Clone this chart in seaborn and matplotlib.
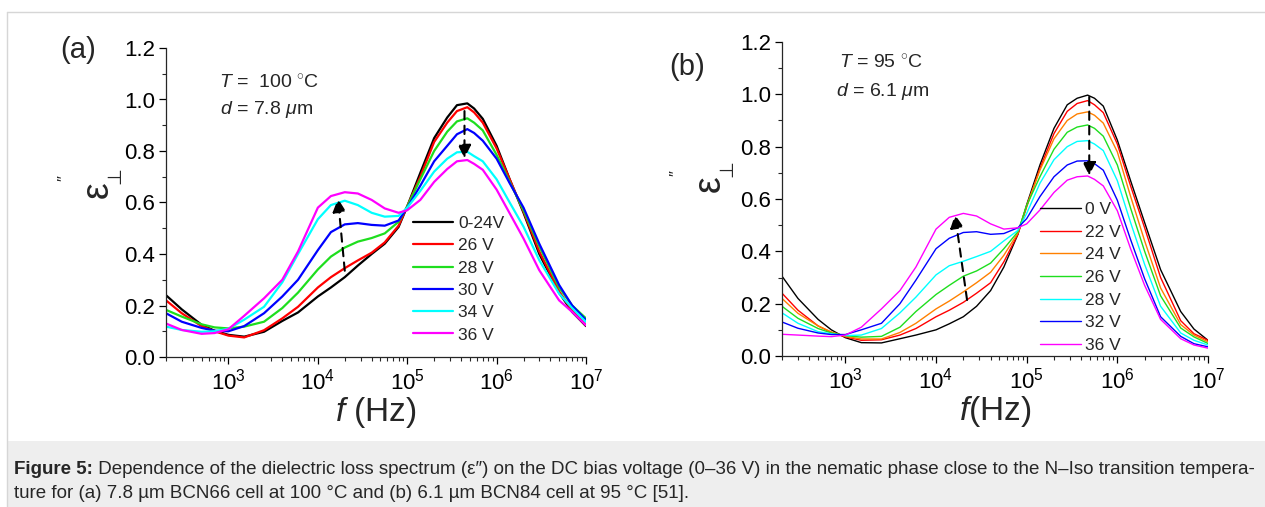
import matplotlib
matplotlib.use("Agg")
import matplotlib.pyplot as plt
import seaborn as sns
from matplotlib.patches import Rectangle
from matplotlib.lines import Line2D
from matplotlib.ticker import LogLocator, MultipleLocator, NullFormatter, FormatStrFormatter


# --------------------------------------------------
# data (frequency in Hz, eps'' in a.u.)
# --------------------------------------------------

freq = [2e2, 3e2, 5e2, 7e2, 1e3, 1.5e3, 2.5e3, 4e3, 6e3, 1e4, 1.4e4, 2e4, 2.8e4,
        4e4, 5.6e4, 8e4, 1e5, 1.4e5, 2e5, 2.8e5, 3.6e5, 4.7e5, 5.6e5, 7e5, 1e6,
        1.4e6, 2e6, 3e6, 5e6, 7e6, 1e7]

# panel (a): 7.8 um cell, 100 C
a_0_24 = [0.24, 0.185, 0.125, 0.102, 0.086, 0.079, 0.098, 0.14, 0.173, 0.235, 0.27, 0.31, 0.355,
          0.40, 0.44, 0.505, 0.585, 0.715, 0.85, 0.93, 0.978, 0.985, 0.965, 0.925, 0.82,
          0.69, 0.56, 0.40, 0.25, 0.175, 0.12]
a_26 = [0.22, 0.17, 0.12, 0.10, 0.083, 0.076, 0.104, 0.15, 0.195, 0.27, 0.31, 0.345, 0.375,
        0.405, 0.445, 0.51, 0.585, 0.70, 0.835, 0.91, 0.955, 0.97, 0.95, 0.91, 0.81,
        0.69, 0.565, 0.41, 0.255, 0.18, 0.123]
a_28 = [0.183, 0.157, 0.127, 0.115, 0.111, 0.118, 0.137, 0.19, 0.25, 0.34, 0.39, 0.425, 0.448,
        0.462, 0.48, 0.525, 0.585, 0.69, 0.80, 0.875, 0.915, 0.927, 0.91, 0.88, 0.785,
        0.68, 0.57, 0.43, 0.27, 0.20, 0.15]
a_30 = [0.17, 0.137, 0.113, 0.102, 0.10, 0.12, 0.17, 0.235, 0.30, 0.415, 0.485, 0.515, 0.52,
        0.513, 0.51, 0.53, 0.58, 0.665, 0.76, 0.82, 0.865, 0.885, 0.87, 0.84, 0.77,
        0.675, 0.58, 0.44, 0.28, 0.20, 0.143]
a_34 = [0.118, 0.105, 0.098, 0.10, 0.11, 0.145, 0.195, 0.29, 0.40, 0.535, 0.59, 0.607, 0.59,
        0.56, 0.545, 0.548, 0.58, 0.645, 0.72, 0.77, 0.795, 0.797, 0.78, 0.76, 0.69,
        0.60, 0.506, 0.376, 0.246, 0.19, 0.136]
a_36 = [0.13, 0.105, 0.09, 0.093, 0.108, 0.16, 0.228, 0.30, 0.41, 0.58, 0.625, 0.64, 0.635,
        0.61, 0.577, 0.56, 0.57, 0.61, 0.68, 0.73, 0.76, 0.765, 0.75, 0.727, 0.65,
        0.558, 0.46, 0.337, 0.22, 0.175, 0.123]

labels_a = ["0-24V", "26 V", "28 V", "30 V", "34 V", "36 V"]
colors_a = ["black", "#ff0000", "#1ede1e", "#0000ff", "#00ffff", "#ff00ff"]

# panel (b): 6.1 um cell, 95 C
b_0 = [0.305, 0.22, 0.14, 0.10, 0.07, 0.051, 0.05, 0.066, 0.08, 0.10, 0.123, 0.15, 0.19,
       0.25, 0.34, 0.465, 0.578, 0.73, 0.87, 0.96, 0.985, 0.997, 0.985, 0.955, 0.825,
       0.67, 0.51, 0.33, 0.17, 0.103, 0.06]
b_22 = [0.24, 0.175, 0.115, 0.09, 0.073, 0.06, 0.062, 0.08, 0.105, 0.15, 0.175, 0.205, 0.24,
        0.28, 0.36, 0.465, 0.57, 0.717, 0.85, 0.935, 0.965, 0.976, 0.96, 0.93, 0.81,
        0.65, 0.49, 0.30, 0.135, 0.085, 0.06]
b_24 = [0.22, 0.163, 0.115, 0.092, 0.075, 0.065, 0.065, 0.09, 0.125, 0.18, 0.21, 0.245, 0.28,
        0.32, 0.385, 0.47, 0.575, 0.71, 0.83, 0.90, 0.925, 0.933, 0.92, 0.89, 0.78,
        0.61, 0.44, 0.26, 0.12, 0.08, 0.054]
b_26 = [0.19, 0.144, 0.105, 0.088, 0.078, 0.072, 0.075, 0.11, 0.17, 0.235, 0.27, 0.305, 0.325,
        0.355, 0.41, 0.475, 0.575, 0.685, 0.79, 0.855, 0.875, 0.883, 0.87, 0.84, 0.73,
        0.565, 0.40, 0.23, 0.107, 0.073, 0.048]
b_28 = [0.165, 0.125, 0.093, 0.085, 0.078, 0.08, 0.105, 0.165, 0.225, 0.31, 0.345, 0.362, 0.38,
        0.40, 0.44, 0.48, 0.545, 0.66, 0.75, 0.80, 0.82, 0.823, 0.81, 0.785, 0.67,
        0.51, 0.35, 0.19, 0.088, 0.06, 0.042]
b_32 = [0.13, 0.106, 0.088, 0.082, 0.082, 0.10, 0.125, 0.20, 0.29, 0.41, 0.45, 0.472, 0.475,
        0.465, 0.468, 0.49, 0.525, 0.609, 0.685, 0.73, 0.745, 0.746, 0.735, 0.71, 0.595,
        0.445, 0.295, 0.15, 0.075, 0.047, 0.035]
b_36 = [0.083, 0.08, 0.076, 0.074, 0.08, 0.11, 0.18, 0.25, 0.34, 0.485, 0.53, 0.545, 0.535,
        0.505, 0.485, 0.49, 0.505, 0.558, 0.625, 0.672, 0.685, 0.688, 0.675, 0.65, 0.555,
        0.41, 0.27, 0.14, 0.066, 0.042, 0.03]

labels_b = ["0 V", "22 V", "24 V", "26 V", "28 V", "32 V", "36 V"]
colors_b = ["black", "#ff0000", "#ff8000", "#1ede1e", "#00ffff", "#0000ff", "#ff00ff"]

# dashed arrows: (tail, head) in data coordinates
arrows_a = [((2.0e4, 0.335), (1.68e4, 0.615)), ((4.37e5, 0.955), (4.37e5, 0.772))]
arrows_b = [((2.2e4, 0.214), (1.62e4, 0.54)), ((4.9e5, 0.99), (4.9e5, 0.69))]

caption_bold = "Figure 5:"
caption_1 = (" Dependence of the dielectric loss spectrum (\u03b5\u2033) on the DC bias voltage (0\u201336 V) "
             "in the nematic phase close to the N\u2013Iso transition tempera-")
caption_2 = "ture for (a) 7.8 \u00b5m BCN66 cell at 100 \u00b0C and (b) 6.1 \u00b5m BCN84 cell at 95 \u00b0C [51]."


# --------------------------------------------------
# style
# --------------------------------------------------

sns.set_style("ticks")
plt.rcParams["font.family"] = ["Liberation Sans", "DejaVu Sans"]
plt.rcParams["mathtext.fontset"] = "custom"
plt.rcParams["mathtext.rm"] = "Liberation Sans"
plt.rcParams["mathtext.it"] = "Liberation Sans:italic"
plt.rcParams["axes.linewidth"] = 0.9

W, H = 1265, 507


def fx(x):
    return x / W


def fy(y):
    return 1 - y / H


fig = plt.figure(figsize=(W / 100, H / 100), dpi=100)
fig.patch.set_facecolor("white")

# page frame and caption band
fig.add_artist(Rectangle((fx(7), 0), 1, fy(441), transform=fig.transFigure,
                         facecolor="#eeeeee", edgecolor="none", zorder=0))
fig.add_artist(Line2D([fx(7), 1], [fy(12), fy(12)], transform=fig.transFigure, color="#d6d6d6", lw=1))
fig.add_artist(Line2D([fx(7), fx(7)], [fy(12), 0], transform=fig.transFigure, color="#d6d6d6", lw=1))

ax_a = fig.add_axes([fx(166), fy(357), fx(586) - fx(166), fy(48) - fy(357)])
ax_b = fig.add_axes([fx(782), fy(356), fx(1208) - fx(782), fy(42) - fy(356)])


def draw_panel(ax, series, labels, colors, lw):
    for vals, lab, col in zip(series, labels, colors):
        sns.lineplot(x=freq, y=vals, color=col, label=lab, lw=lw, ax=ax, sort=False)

    ax.set_xscale("log")
    ax.set_xlim(2e2, 1e7)
    ax.set_ylim(0, 1.2)

    ax.xaxis.set_major_locator(LogLocator(base=10))
    ax.xaxis.set_minor_locator(LogLocator(base=10, subs=range(2, 10)))
    ax.xaxis.set_minor_formatter(NullFormatter())
    ax.yaxis.set_major_locator(MultipleLocator(0.2))
    ax.yaxis.set_minor_locator(MultipleLocator(0.1))
    ax.yaxis.set_major_formatter(FormatStrFormatter("%.1f"))

    ax.tick_params(which="major", direction="out", length=5, width=0.9, labelsize=16, pad=3, colors="black")
    ax.tick_params(which="minor", direction="out", length=3, width=0.8)
    sns.despine(ax=ax)
    ax.set_ylabel("")


draw_panel(ax_a, [a_0_24, a_26, a_28, a_30, a_34, a_36], labels_a, colors_a, 1.6)
draw_panel(ax_b, [b_0, b_22, b_24, b_26, b_28, b_32, b_36], labels_b, colors_b, 1.0)

ax_a.set_xlabel(r"$\mathit{f}$ (Hz)", fontsize=24, labelpad=1)
ax_b.set_xlabel(r"$\mathit{f}$(Hz)", fontsize=24, labelpad=1)

# dashed arrows
for ax, arrows in [(ax_a, arrows_a), (ax_b, arrows_b)]:
    for tail, head in arrows:
        ax.annotate("", xy=head, xytext=tail,
                    arrowprops=dict(arrowstyle="-|>", color="black", lw=1.5, ls=(0, (4, 3)),
                                    mutation_scale=20, shrinkA=0, shrinkB=0))

# legends
ax_a.legend(loc="upper left", bbox_to_anchor=(fx(413), fy(216)), bbox_transform=fig.transFigure,
            frameon=False, fontsize=12.5, handlelength=2.3, handletextpad=0.3,
            labelspacing=0.41, borderpad=0, borderaxespad=0)
ax_b.legend(loc="upper left", bbox_to_anchor=(fx(1040), fy(202)), bbox_transform=fig.transFigure,
            frameon=False, fontsize=12.5, handlelength=2.35, handletextpad=0.26,
            labelspacing=0.43, borderpad=0, borderaxespad=0)

# panel letters and conditions
fig.text(fx(78), fy(50), "(a)", fontsize=21, ha="center", va="center")
fig.text(fx(687), fy(67), "(b)", fontsize=21, ha="center", va="center")
fig.text(fx(269), fy(83), r"$\mathit{T}$ =  100 $^{\circ}$C", fontsize=14, ha="center", va="center")
fig.text(fx(267), fy(110), r"$\mathit{d}$ = 7.8 $\mu$m", fontsize=14, ha="center", va="center")
fig.text(fx(881), fy(63), r"$\mathit{T}$ = 95 $^{\circ}$C", fontsize=14, ha="center", va="center")
fig.text(fx(883), fy(91), r"$\mathit{d}$ = 6.1 $\mu$m", fontsize=14, ha="center", va="center")

# y labels: eps with perp subscript and double prime, rotated
for ex, ey, px, py, qx, qy in [(98, 190, 116, 175, 65, 178), (710, 184, 728, 169, 677, 173)]:
    fig.text(fx(ex), fy(ey), "\u03b5", fontsize=27, rotation=90, ha="center", va="center")
    fig.text(fx(px), fy(py), "\u22a5", fontsize=14, rotation=90, ha="center", va="center")
    fig.text(fx(qx), fy(qy), "\u2033", fontsize=12, rotation=90, ha="center", va="center")

# caption
renderer = fig.canvas.get_renderer()
t_bold = fig.text(fx(14), fy(470), caption_bold, fontsize=13.5, weight="bold", va="center")
x_end = t_bold.get_window_extent(renderer).x1
fig.text(x_end / W, fy(470), caption_1, fontsize=13.5, va="center")
fig.text(fx(14), fy(493), caption_2, fontsize=13.5, va="center")

fig.savefig("out.png", dpi=100, facecolor="white")
